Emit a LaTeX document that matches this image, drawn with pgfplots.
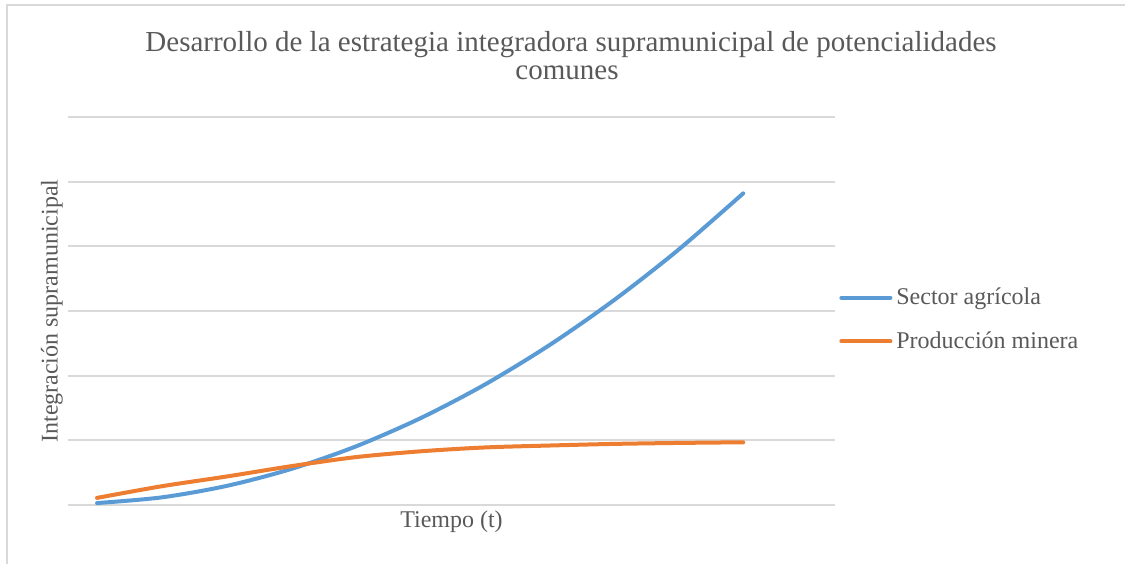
\documentclass[border=0pt]{standalone}
\usepackage{fontspec}
\setmainfont{Liberation Serif}
\usepackage{pgfplots}
\pgfplotsset{compat=1.18}
\definecolor{xblue}{HTML}{5B9BD5}
\definecolor{xorange}{HTML}{ED7D31}
\definecolor{xgrid}{HTML}{D9D9D9}
\definecolor{xtext}{HTML}{595959}
\begin{document}
\begin{tikzpicture}[x=0.5pt,y=-0.5pt]
\useasboundingbox (0,0) rectangle (1125,564);
\draw[xgrid, line width=1pt] (7,564) -- (7,5) -- (1125,5);
\node[text=xtext, font=\fontsize{14.5}{16}\selectfont, inner sep=0pt] at (571,45) {Desarrollo de la estrategia integradora supramunicipal de potencialidades};
\node[text=xtext, font=\fontsize{14.5}{16}\selectfont, inner sep=0pt] at (567,73) {comunes};
\begin{axis}[
  at={(34pt,-252.5pt)}, anchor=south west,
  scale only axis, width=383.5pt, height=194pt,
  xmin=-4.49, xmax=114.2, ymin=0, ymax=6,
  axis line style={draw=none},
  xtick=\empty, ytick={0,1,2,3,4,5,6}, yticklabels={},
  major tick length=0pt,
  ymajorgrids, grid style={xgrid, line width=1pt},
  xlabel={Tiempo (t)}, ylabel={Integración supramunicipal},
  label style={text=xtext, font=\fontsize{12}{14}\selectfont},
  xlabel style={at={(axis description cs:0.5,-0.0438)}, anchor=center},
  ylabel style={at={(axis description cs:-0.0209,0.5)}, anchor=center},
  legend style={at={(1.0052,0.478)}, anchor=west, draw=none, fill=none,
    font=\fontsize{12}{14}\selectfont, text=xtext, row sep=8pt, inner sep=0pt},
  legend cell align=left,
  legend image code/.code={\draw[#1, line width=2pt] (0pt,0pt) -- (24.5pt,0pt);},
  clip=false,
]
\addplot[xblue, line width=2pt, smooth, line cap=round] coordinates {
(0,0.03) (10,0.118) (20,0.294) (30,0.556) (40,0.904) (50,1.34)
(60,1.862) (70,2.472) (80,3.168) (90,3.95) (100,4.82)};
\addlegendentry{Sector agrícola}
\addplot[xorange, line width=2pt, smooth, line cap=round] coordinates {
(0,0.11) (10,0.29) (20,0.44) (30,0.60) (40,0.74) (50,0.83)
(60,0.89) (70,0.92) (80,0.945) (90,0.96) (100,0.97)};
\addlegendentry{Producción minera}
\end{axis}
\end{tikzpicture}
\end{document}
